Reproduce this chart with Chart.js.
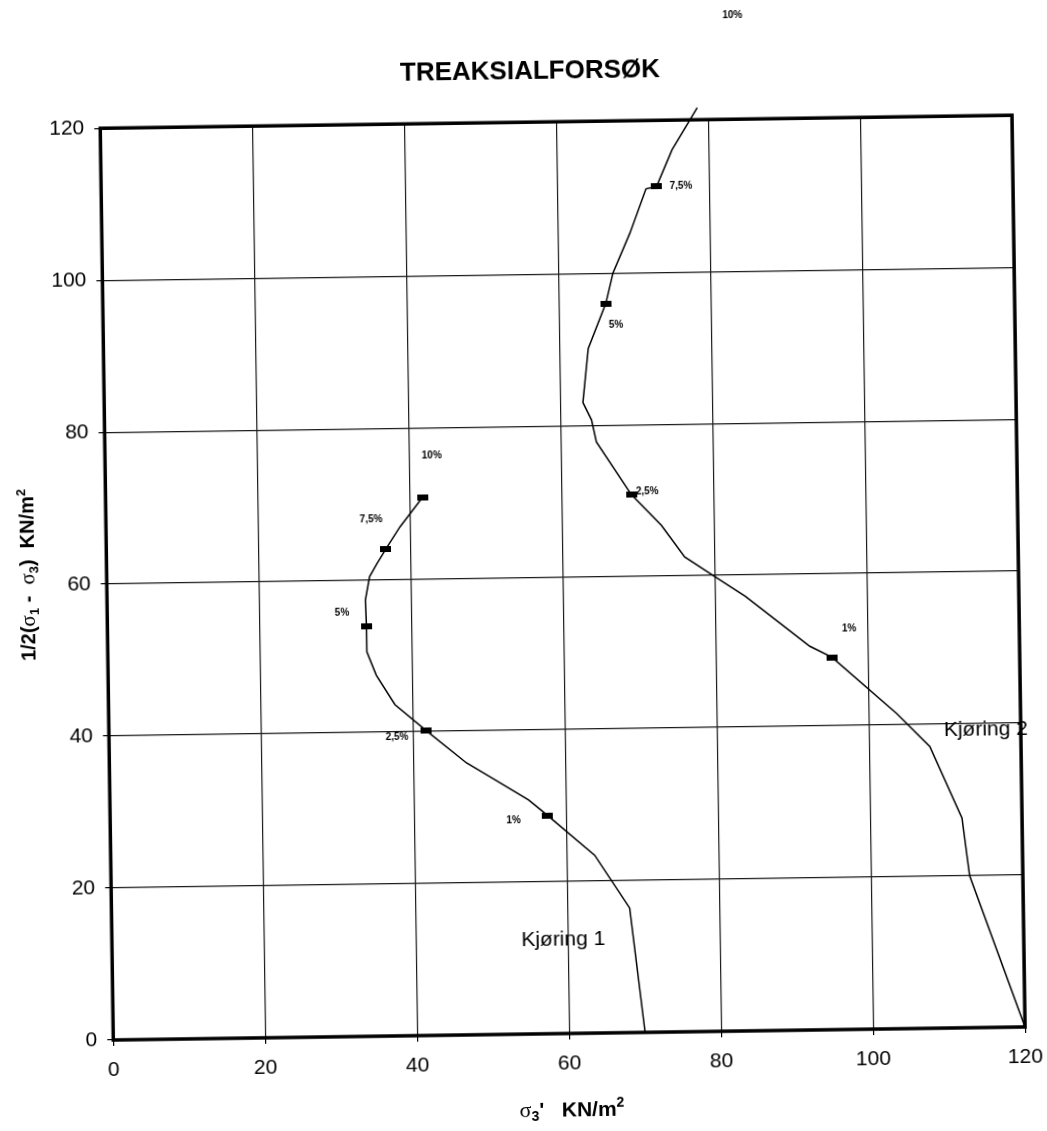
<!DOCTYPE html>
<html>
<head>
<meta charset="utf-8">
<script src="https://cdn.jsdelivr.net/npm/chart.js@4.4.1/dist/chart.umd.min.js"></script>
<style>
html,body{margin:0;padding:0;background:#fff;overflow:hidden;width:1047px;height:1131px;}
#wrap{position:absolute;left:0;top:0;width:1047px;height:1131px;transform:rotate(-0.82deg);transform-origin:113.3px 1040px;}
canvas{display:block;}
</style>
</head>
<body>
<div id="wrap"><canvas id="c" width="1047" height="1131"></canvas></div>
<script>
// ---- axis ticks ----
const xTickValues = [0, 20, 40, 60, 80, 100, 120];
const yTickValues = [0, 20, 40, 60, 80, 100, 120];

// ---- Kjøring 1 : sigma3' (x) and 1/2(sigma1 - sigma3) (y), with strain markers ----
const run1Sigma3 = [70.0, 68.2, 63.7, 57.6, 55.1, 50.1, 47.0, 41.8, 37.7, 35.3, 34.1, 34.1, 34.0, 34.6, 35.6, 36.8, 38.7, 41.7];
const run1Tau    = [0.0, 16.4, 23.4, 28.7, 30.8, 33.9, 35.8, 40.1, 43.6, 47.5, 50.6, 54.0, 57.4, 60.5, 62.2, 64.1, 67.0, 70.8];
const run1Strain = ['', '', '', '1%', '', '', '', '2,5%', '', '', '', '5%', '', '', '', '7,5%', '', '10%'];

// ---- Kjøring 2 ----
const run2Sigma3 = [120.0, 113.0, 112.1, 108.0, 103.7, 95.3, 92.4, 89.4, 84.0, 80.1, 76.1, 73.1, 69.2, 64.7, 64.1, 63.0, 63.8, 66.2, 67.2, 69.5, 71.7, 73.1, 75.2, 78.6];
const run2Tau    = [0.0, 20.0, 27.6, 37.1, 41.5, 49.0, 50.5, 52.9, 57.2, 59.8, 62.5, 66.7, 70.8, 77.8, 80.7, 83.0, 90.1, 96.0, 100.0, 105.2, 111.0, 111.3, 116.1, 121.6];
const run2Strain = ['', '', '', '', '', '1%', '', '', '', '', '', '', '2,5%', '', '', '', '', '5%', '', '', '', '7,5%', '', ''];

// ---- strain annotations (text and anchor in data units) ----
const strainText = ['10%', '7,5%', '5%', '2,5%', '1%', '7,5%', '5%', '2,5%', '1%', '10%'];
const strainAtX  = [43.0, 34.9, 30.9, 37.9, 53.1, 76.3, 67.5, 71.3, 97.6, 83.4];
const strainAtY  = [76.3, 68.0, 55.8, 39.3, 28.1, 111.3, 93.2, 71.2, 52.8, 133.7];

const runNames = ['Kjøring 1', 'Kjøring 2'];
const runNameX = [59.4, 115.4];
const runNameY = [12.3, 39.2];

const titleText = 'TREAKSIALFORSØK';

// marker glyph: small filled black bar
const mk = document.createElement('canvas');
mk.width = 11; mk.height = 6;
const mkc = mk.getContext('2d');
mkc.fillStyle = '#000';
mkc.fillRect(0, 0, 11, 6);

function toPts(xs, ys) { return xs.map((v, i) => ({x: v, y: ys[i]})); }

const SANS = '"Liberation Sans", Arial, "DejaVu Sans", sans-serif';
const SERIF = '"Liberation Serif", "DejaVu Serif", serif';

function drawRuns(ctx, runs, cx, cy, rot) {
  let total = 0;
  runs.forEach(r => { ctx.font = r.font; r.w = ctx.measureText(r.t).width; total += r.w; });
  ctx.save();
  ctx.translate(cx, cy);
  ctx.rotate(rot);
  ctx.textAlign = 'left';
  ctx.textBaseline = 'alphabetic';
  ctx.fillStyle = '#000';
  let x = -total / 2;
  runs.forEach(r => { ctx.font = r.font; ctx.fillText(r.t, x, 7 + (r.dy || 0)); x += r.w; });
  ctx.restore();
}

const deco = {
  id: 'deco',
  beforeDatasetsDraw(chart) {
    const {ctx, chartArea: a} = chart;
    ctx.save();
    ctx.strokeStyle = '#000';
    ctx.lineWidth = 3.5;
    ctx.strokeRect(a.left, a.top, a.right - a.left, a.bottom - a.top);
    ctx.restore();
  },
  afterDraw(chart) {
    const {ctx, scales: {x, y}} = chart;
    ctx.save();
    ctx.fillStyle = '#000';
    // title
    ctx.font = 'bold 26px ' + SANS;
    ctx.textAlign = 'center';
    ctx.textBaseline = 'middle';
    ctx.fillText(titleText, 543.8, 78);
    // strain labels
    ctx.font = 'bold 10px ' + SANS;
    strainText.forEach((t, i) => ctx.fillText(t, x.getPixelForValue(strainAtX[i]), y.getPixelForValue(strainAtY[i])));
    // run names
    ctx.font = '21px ' + SANS;
    runNames.forEach((t, i) => ctx.fillText(t, x.getPixelForValue(runNameX[i]), y.getPixelForValue(runNameY[i])));
    ctx.restore();
    // axis titles
    const B20 = 'bold 20px ' + SANS, S20 = '21px ' + SERIF, sm = 'bold 13px ' + SANS;
    drawRuns(ctx, [
      {t: '1/2(', font: B20}, {t: 'σ', font: S20}, {t: '1', font: sm, dy: 4},
      {t: ' -  ', font: B20}, {t: 'σ', font: S20}, {t: '3', font: sm, dy: 4},
      {t: ')  KN/m', font: B20}, {t: '2', font: sm, dy: -8}
    ], 33.6, 573.8, -Math.PI / 2);
    const B22 = 'bold 21px ' + SANS, S22 = '22px ' + SERIF, sm2 = 'bold 14px ' + SANS;
    drawRuns(ctx, [
      {t: 'σ', font: S22}, {t: '3', font: sm2, dy: 4}, {t: "'", font: B22},
      {t: '   KN/m', font: B22}, {t: '2', font: sm2, dy: -9}
    ], 571, 1116, 0);
  }
};

const lineStyle = {
  borderColor: '#000',
  borderWidth: 1.5,
  tension: 0,
  fill: false,
  showLine: true,
  clip: false,
  pointStyle: mk,
  pointBackgroundColor: '#000',
  pointBorderWidth: 0,
  pointHoverRadius: 0
};

new Chart(document.getElementById('c'), {
  type: 'scatter',
  data: {
    datasets: [
      Object.assign({label: runNames[0], data: toPts(run1Sigma3, run1Tau),
        pointRadius: c => run1Strain[c.dataIndex] ? 4 : 0}, lineStyle),
      Object.assign({label: runNames[1], data: toPts(run2Sigma3, run2Tau),
        pointRadius: c => run2Strain[c.dataIndex] ? 4 : 0}, lineStyle)
    ]
  },
  options: {
    responsive: false,
    devicePixelRatio: 1,
    animation: false,
    events: [],
    layout: {padding: {left: 0, top: 128.2, right: 21.9, bottom: 0}},
    plugins: {legend: {display: false}, title: {display: false}, tooltip: {enabled: false}},
    scales: {
      x: {
        type: 'linear', min: 0, max: 120,
        afterFit: s => { s.height = 91; s.paddingLeft = 0; s.paddingRight = 0; },
        afterBuildTicks: s => { s.ticks = xTickValues.map(v => ({value: v})); },
        grid: {color: '#1a1a1a', lineWidth: 1.2, tickColor: '#000', tickLength: 6, tickWidth: 1.2},
        border: {display: false},
        ticks: {color: '#000', padding: 12, maxRotation: 0, font: {family: SANS, size: 21}}
      },
      y: {
        type: 'linear', min: 0, max: 120,
        afterFit: s => { s.width = 113.3; s.paddingTop = 0; s.paddingBottom = 0; },
        afterBuildTicks: s => { s.ticks = yTickValues.map(v => ({value: v})); },
        grid: {color: '#1a1a1a', lineWidth: 1.2, tickColor: '#000', tickLength: 6, tickWidth: 1.2},
        border: {display: false},
        ticks: {color: '#000', padding: 10, font: {family: SANS, size: 21}}
      }
    }
  },
  plugins: [deco]
});
</script>
</body>
</html>
